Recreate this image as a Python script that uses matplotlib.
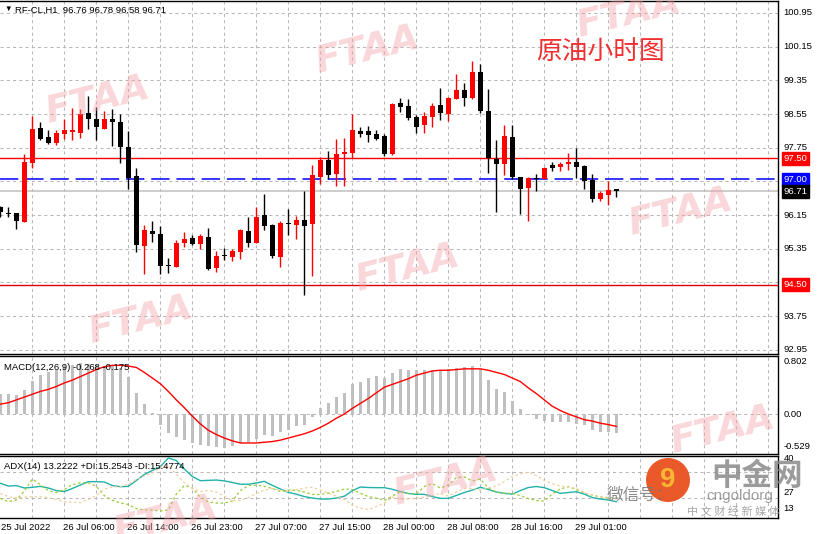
import matplotlib.pyplot as plt
from matplotlib.patches import Ellipse
import numpy as np

plt.rcParams['font.family'] = ['Liberation Sans', 'DejaVu Sans']

# hourly candles, RF-CL H1
opens = [96.35, 96.19, 96.20, 95.99, 97.39, 98.21, 98.00, 97.86, 98.07, 98.13,
         98.11, 98.57, 98.43, 98.19, 98.43, 98.36, 97.77, 97.08, 95.42, 95.77,
         95.70, 94.96, 94.91, 95.49, 95.61, 95.46, 95.63, 94.90, 95.19, 95.15,
         95.28, 95.77, 95.49, 96.15, 95.91, 95.15, 95.97, 95.91, 96.03, 95.94,
         97.06, 97.46, 97.13, 97.60, 97.62, 98.15, 98.15, 98.08, 98.03, 97.59,
         98.81, 98.74, 98.48, 98.29, 98.48, 98.77, 98.55, 98.91, 99.12, 98.94,
         99.55, 98.62, 97.49, 97.37, 98.01, 97.06, 96.80, 97.04, 97.01, 97.35,
         97.30, 97.36, 97.40, 97.32, 96.99, 96.52, 96.63, 96.76]
highs = [96.37, 96.33, 96.20, 97.60, 98.51, 98.36, 98.17, 98.16, 98.43, 98.69,
         98.66, 98.98, 98.71, 98.62, 98.67, 98.55, 98.15, 97.27, 95.91, 96.00,
         95.89, 95.13, 95.56, 95.75, 95.68, 95.70, 95.84, 95.30, 95.37, 95.34,
         95.82, 96.11, 96.35, 96.64, 95.94, 96.01, 96.30, 96.13, 96.72, 97.34,
         97.54, 97.67, 97.96, 97.98, 98.55, 98.24, 98.27, 98.17, 98.08, 98.81,
         98.93, 98.91, 98.53, 98.60, 98.81, 99.17, 98.95, 99.50, 99.29, 99.81,
         99.74, 99.14, 97.93, 98.29, 98.29, 97.06, 97.06, 97.13, 97.30, 97.42,
         97.42, 97.63, 97.75, 97.35, 97.13, 96.73, 96.97, 96.78]
lows = [96.11, 96.10, 95.83, 95.99, 97.27, 97.93, 97.85, 97.82, 97.96, 97.94,
        97.99, 98.19, 97.93, 98.19, 97.80, 97.39, 96.77, 95.27, 94.76, 95.50,
        94.76, 94.78, 94.91, 95.38, 95.44, 95.34, 94.85, 94.80, 95.08, 95.06,
        95.11, 95.39, 95.49, 95.80, 95.13, 94.92, 95.68, 95.58, 94.25, 94.70,
        96.88, 97.01, 96.85, 96.85, 97.51, 98.00, 97.89, 97.94, 97.55, 97.58,
        98.61, 98.41, 98.10, 98.10, 98.24, 98.41, 98.38, 98.91, 98.74, 98.91,
        98.58, 97.15, 96.23, 97.10, 97.01, 96.18, 96.02, 96.73, 97.01, 97.20,
        97.20, 97.23, 97.04, 96.78, 96.47, 96.49, 96.38, 96.58]
closes = [96.22, 96.18, 96.00, 97.41, 98.19, 97.96, 97.87, 98.11, 98.17, 98.17,
          98.55, 98.43, 98.24, 98.43, 98.35, 97.77, 97.04, 95.45, 95.80, 95.71,
          94.93, 94.93, 95.49, 95.58, 95.46, 95.65, 94.87, 95.18, 95.17, 95.30,
          95.80, 95.49, 96.10, 95.89, 95.18, 95.96, 95.93, 96.03, 95.89, 97.10,
          97.46, 97.10, 97.60, 97.65, 98.17, 98.08, 98.06, 97.96, 97.60, 98.79,
          98.72, 98.46, 98.25, 98.50, 98.74, 98.58, 98.93, 99.12, 98.94, 99.55,
          98.62, 97.51, 97.37, 98.03, 97.06, 96.78, 97.04, 97.01, 97.27, 97.27,
          97.37, 97.42, 97.30, 96.97, 96.52, 96.68, 96.75, 96.71]

macd_main = [0.29, 0.29, 0.27, 0.34, 0.47, 0.55, 0.59, 0.62, 0.67, 0.69,
             0.72, 0.71, 0.70, 0.68, 0.69, 0.65, 0.53, 0.30, 0.14, 0.02,
             -0.16, -0.27, -0.33, -0.37, -0.41, -0.44, -0.46, -0.47, -0.48, -0.46,
             -0.41, -0.39, -0.36, -0.30, -0.31, -0.26, -0.23, -0.17, -0.16, -0.04,
             0.09, 0.15, 0.24, 0.30, 0.42, 0.46, 0.51, 0.54, 0.51, 0.58,
             0.64, 0.63, 0.62, 0.63, 0.62, 0.63, 0.64, 0.65, 0.67, 0.68,
             0.64, 0.48, 0.35, 0.31, 0.18, 0.07, -0.01, -0.07, -0.10, -0.11,
             -0.12, -0.12, -0.14, -0.16, -0.23, -0.25, -0.25, -0.268]
macd_signal = [0.14, 0.16, 0.20, 0.24, 0.28, 0.32, 0.35, 0.39, 0.44, 0.48,
               0.53, 0.58, 0.63, 0.67, 0.69, 0.69, 0.68, 0.66, 0.59, 0.51,
               0.43, 0.32, 0.20, 0.09, -0.03, -0.14, -0.23, -0.29, -0.34, -0.38,
               -0.41, -0.41, -0.41, -0.40, -0.39, -0.37, -0.34, -0.31, -0.28, -0.24,
               -0.19, -0.13, -0.06, 0.00, 0.08, 0.15, 0.22, 0.30, 0.38, 0.42,
               0.46, 0.50, 0.55, 0.58, 0.61, 0.62, 0.62, 0.63, 0.64, 0.64,
               0.64, 0.62, 0.59, 0.56, 0.51, 0.46, 0.37, 0.29, 0.20, 0.11,
               0.05, 0.00, -0.04, -0.08, -0.10, -0.13, -0.15, -0.175]

adx = [24.6, 22.9, 23.2, 21.7, 22.1, 22.7, 21.7, 20.1, 19.5, 21.4,
       23.5, 25.6, 25.6, 25.4, 23.2, 22.5, 22.7, 26.3, 30.0, 32.5,
       34.8, 40.2, 38.6, 33.4, 28.8, 26.2, 26.4, 26.6, 26.1, 25.1,
       24.0, 24.0, 24.8, 25.8, 23.3, 21.1, 19.0, 17.9, 16.4, 15.5,
       14.9, 14.9, 15.5, 16.6, 20.0, 22.3, 22.0, 21.9, 21.9, 20.9,
       19.5, 18.3, 17.8, 17.8, 16.4, 15.3, 15.3, 17.1, 18.9, 20.4,
       22.1, 20.8, 19.2, 18.4, 17.9, 20.1, 22.0, 22.6, 21.9, 20.1,
       18.4, 18.9, 19.4, 17.9, 15.8, 14.9, 14.3, 13.22]
plus_di = [15.3, 13.3, 14.3, 19.8, 27.2, 23.8, 20.1, 18.9, 20.7, 23.8,
           24.8, 24.9, 22.7, 17.0, 14.1, 12.5, 11.5, 9.0, 8.1, 8.1,
           7.5, 8.1, 18.0, 23.2, 21.7, 16.1, 13.2, 12.4, 12.4, 13.7,
           20.1, 23.2, 23.5, 22.7, 21.4, 19.5, 20.4, 20.3, 19.2, 17.7,
           17.7, 18.6, 19.5, 21.1, 20.8, 18.4, 16.4, 15.5, 14.0, 16.7,
           19.5, 18.3, 18.0, 22.6, 24.4, 21.7, 23.5, 28.1, 28.5, 26.0,
           27.2, 21.7, 19.2, 18.4, 18.4, 17.0, 15.2, 14.0, 13.6, 18.0,
           21.1, 22.4, 20.8, 18.6, 17.4, 16.1, 15.8, 15.25]
minus_di = [18.4, 16.4, 15.5, 16.1, 16.3, 16.3, 15.8, 14.6, 13.3, 12.9,
            12.7, 14.6, 17.0, 21.1, 22.4, 22.5, 24.1, 26.9, 29.1, 30.9,
            34.6, 35.2, 30.3, 25.1, 21.4, 19.5, 20.1, 19.2, 16.7, 14.0,
            14.0, 15.8, 18.3, 20.4, 21.4, 20.4, 19.5, 20.7, 21.7, 22.1,
            20.4, 18.6, 16.7, 14.6, 11.2, 9.3, 8.4, 10.3, 12.4, 16.1,
            14.9, 14.9, 15.5, 16.1, 17.0, 18.4, 16.7, 19.2, 21.5, 21.4,
            20.4, 21.7, 22.9, 25.7, 28.8, 30.3, 31.5, 29.4, 26.3, 24.4,
            22.9, 22.3, 21.5, 18.9, 17.4, 16.1, 15.2, 15.48]

time_bars = [0, 8, 16, 24, 32, 40, 48, 56, 64, 72]
time_labels = ["25 Jul 2022", "26 Jul 06:00", "26 Jul 14:00", "26 Jul 23:00",
               "27 Jul 07:00", "27 Jul 15:00", "28 Jul 00:00", "28 Jul 08:00",
               "28 Jul 16:00", "29 Jul 01:00"]
price_grid = [100.95, 100.15, 99.35, 98.55, 97.75, 96.95, 96.15, 95.35, 94.55, 93.75, 92.95]
price_labels = [100.95, 100.15, 99.35, 98.55, 97.75, 96.15, 95.35, 93.75, 92.95]

W, H = 819, 534
fig = plt.figure(figsize=(W / 100, H / 100), dpi=100)


def fx(px):
    return px / W


def fy(py):
    return 1 - py / H


GRID = '#b8b8b8'
xlim = (-0.04, 778 / 8 - 0.04)
fs = 6.8


def style(ax):
    ax.set_xlim(*xlim)
    ax.set_xticks(np.arange(4, 97, 4))
    ax.grid(True, color=GRID, ls=(0, (3, 3)), lw=0.75)
    ax.tick_params(length=0, labelbottom=False, labelleft=False)
    ax.spines['left'].set_visible(False)
    for s in ['top', 'right', 'bottom']:
        ax.spines[s].set_linewidth(1.0)
    ax.set_axisbelow(True)


# ---- price panel ----
ax = fig.add_axes([0, fy(354), fx(778), (354 - 1) / H])
style(ax)
ax.set_ylim(92.85, 101.235)
ax.set_yticks(price_grid)

x = np.arange(len(opens))
o, h, l, c = map(np.array, (opens, highs, lows, closes))
cols = np.where(c >= o, '#ff0000', '#000000')
ax.vlines(x, l, h, colors=cols, lw=1.0, zorder=3)
body = np.maximum(np.abs(c - o), 0.015)
ax.bar(x, body, bottom=np.minimum(o, c), width=0.64, color=cols, lw=0, zorder=3)

ax.axhline(97.50, color='#ff0000', lw=1.0, zorder=2)
ax.axhline(97.00, color='#0000ff', lw=1.1, ls=(0, (12, 4.5)), zorder=2)
ax.axhline(96.71, color='#c0c0c0', lw=1.1, zorder=2)
ax.axhline(94.50, color='#e00000', lw=1.0, zorder=2)

ytr = ax.get_yaxis_transform()
for p in price_labels:
    ax.text(1.007, p, f"{p:.2f}", transform=ytr, fontsize=fs, va='center', ha='left', clip_on=False)
for p, fc in [(97.50, '#ff0000'), (97.00, '#0000ff'), (96.71, '#000000'), (94.50, '#ff0000')]:
    ax.text(1.007, p, f"{p:.2f}", transform=ytr, fontsize=fs, va='center', ha='left', color='white',
            clip_on=False, bbox=dict(boxstyle='square,pad=0.2', fc=fc, ec=fc))

ax.text(0.006, 0.985, "\u25BC", transform=ax.transAxes, fontsize=5.5, va='top', ha='left')
ax.text(0.019, 0.987, "RF-CL,H1  96.76 96.78 96.58 96.71", transform=ax.transAxes,
        fontsize=fs, va='top', ha='left')
fig.text(fx(600), fy(52), "原油小时图", color='#f03030', fontsize=18.5, ha='center', va='center',
         family=['Noto Sans CJK SC', 'DejaVu Sans'])

# ---- MACD panel ----
am = fig.add_axes([0, fy(453.7), fx(778), (453.7 - 356) / H])
style(am)
am.set_ylim(-0.562, 0.822)
am.set_yticks([0.0])
am.bar(x, macd_main, width=0.38, color='#c0c0c0', lw=0, zorder=2)
am.plot(x, macd_signal, color='#ff0000', lw=1.0, zorder=3)
am.text(0.005, 0.88, "MACD(12,26,9) -0.268 -0.175", transform=am.transAxes, fontsize=fs,
        va='center', ha='left')
mtr = am.get_yaxis_transform()
am.text(1.007, 0.802, "0.802", transform=mtr, fontsize=fs, va='top', ha='left')
am.text(1.007, 0.0, "0.00", transform=mtr, fontsize=fs, va='center', ha='left')
am.text(1.007, -0.529, "-0.529", transform=mtr, fontsize=fs, va='bottom', ha='left')

# ---- ADX panel ----
ad = fig.add_axes([0, fy(518), fx(778), (518 - 455.7) / H])
style(ad)
ad.set_ylim(3.2, 41.6)
ad.set_yticks([31.7, 15.3])
ad.plot(x, adx, color='#20b2aa', lw=1.0, zorder=3)
ad.plot(x, plus_di, color='#9acd32', lw=0.9, ls=(0, (2, 2)), zorder=3)
ad.plot(x, minus_di, color='#f2cfa0', lw=0.9, ls=(0, (2, 2)), zorder=3)
ad.text(0.005, 0.82, "ADX(14) 13.2222 +DI:15.2543 -DI:15.4774", transform=ad.transAxes,
        fontsize=fs, va='center', ha='left')
atr = ad.get_yaxis_transform()
ad.text(1.007, 40, "40", transform=atr, fontsize=fs, va='center', ha='left')
ad.text(1.007, 18.8, "27", transform=atr, fontsize=fs, va='center', ha='left')
ad.text(1.007, 9.3, "13", transform=atr, fontsize=fs, va='center', ha='left')

xtr = ad.get_xaxis_transform()
for b, s in zip(time_bars, time_labels):
    ad.text(max(b - 0.15, 0.05), -0.08, s, transform=xtr, fontsize=fs, va='top', ha='left', clip_on=False)

# ---- watermarks ----
for cx, cy in [(367, 50), (97, 100), (628, 14), (407, 268), (140, 320), (680, 212), (722, 430),
               (445, 482), (165, 520)]:
    fig.text(fx(cx), fy(cy), "FTAA", fontsize=27, fontweight='heavy', style='italic',
             color='#f2a0a6', alpha=0.42, rotation=14, ha='center', va='center',
             family='DejaVu Sans', zorder=1)

logo = Ellipse((fx(668), fy(480)), 44 / W, 44 / H, transform=fig.transFigure, fc='#e8501e',
               ec='none', alpha=0.95, zorder=5)
fig.patches.append(logo)
fig.text(fx(668), fy(480), "9", color='#f7b733', fontsize=20, fontweight='bold', ha='center',
         va='center', zorder=6)
cjk = ['Noto Sans CJK SC', 'DejaVu Sans']
fig.text(fx(757), fy(476), "中金网", color='#8a8a8a', fontsize=22, fontweight='bold', ha='center',
         va='center', family=cjk, alpha=0.85, zorder=6)
fig.text(fx(640), fy(495), "微信号：", color='#777777', fontsize=12, ha='center', va='center',
         family=cjk, alpha=0.85, zorder=6)
fig.text(fx(740), fy(496), "cngoldorg", color='#777777', fontsize=11, ha='center', va='center',
         alpha=0.7, zorder=6)
fig.text(fx(733), fy(511), "中 文 财 经 新 媒 体", color='#999999', fontsize=8, ha='center',
         va='center', family=cjk, alpha=0.85, zorder=6)

fig.savefig("out.png", dpi=100, facecolor='white')
